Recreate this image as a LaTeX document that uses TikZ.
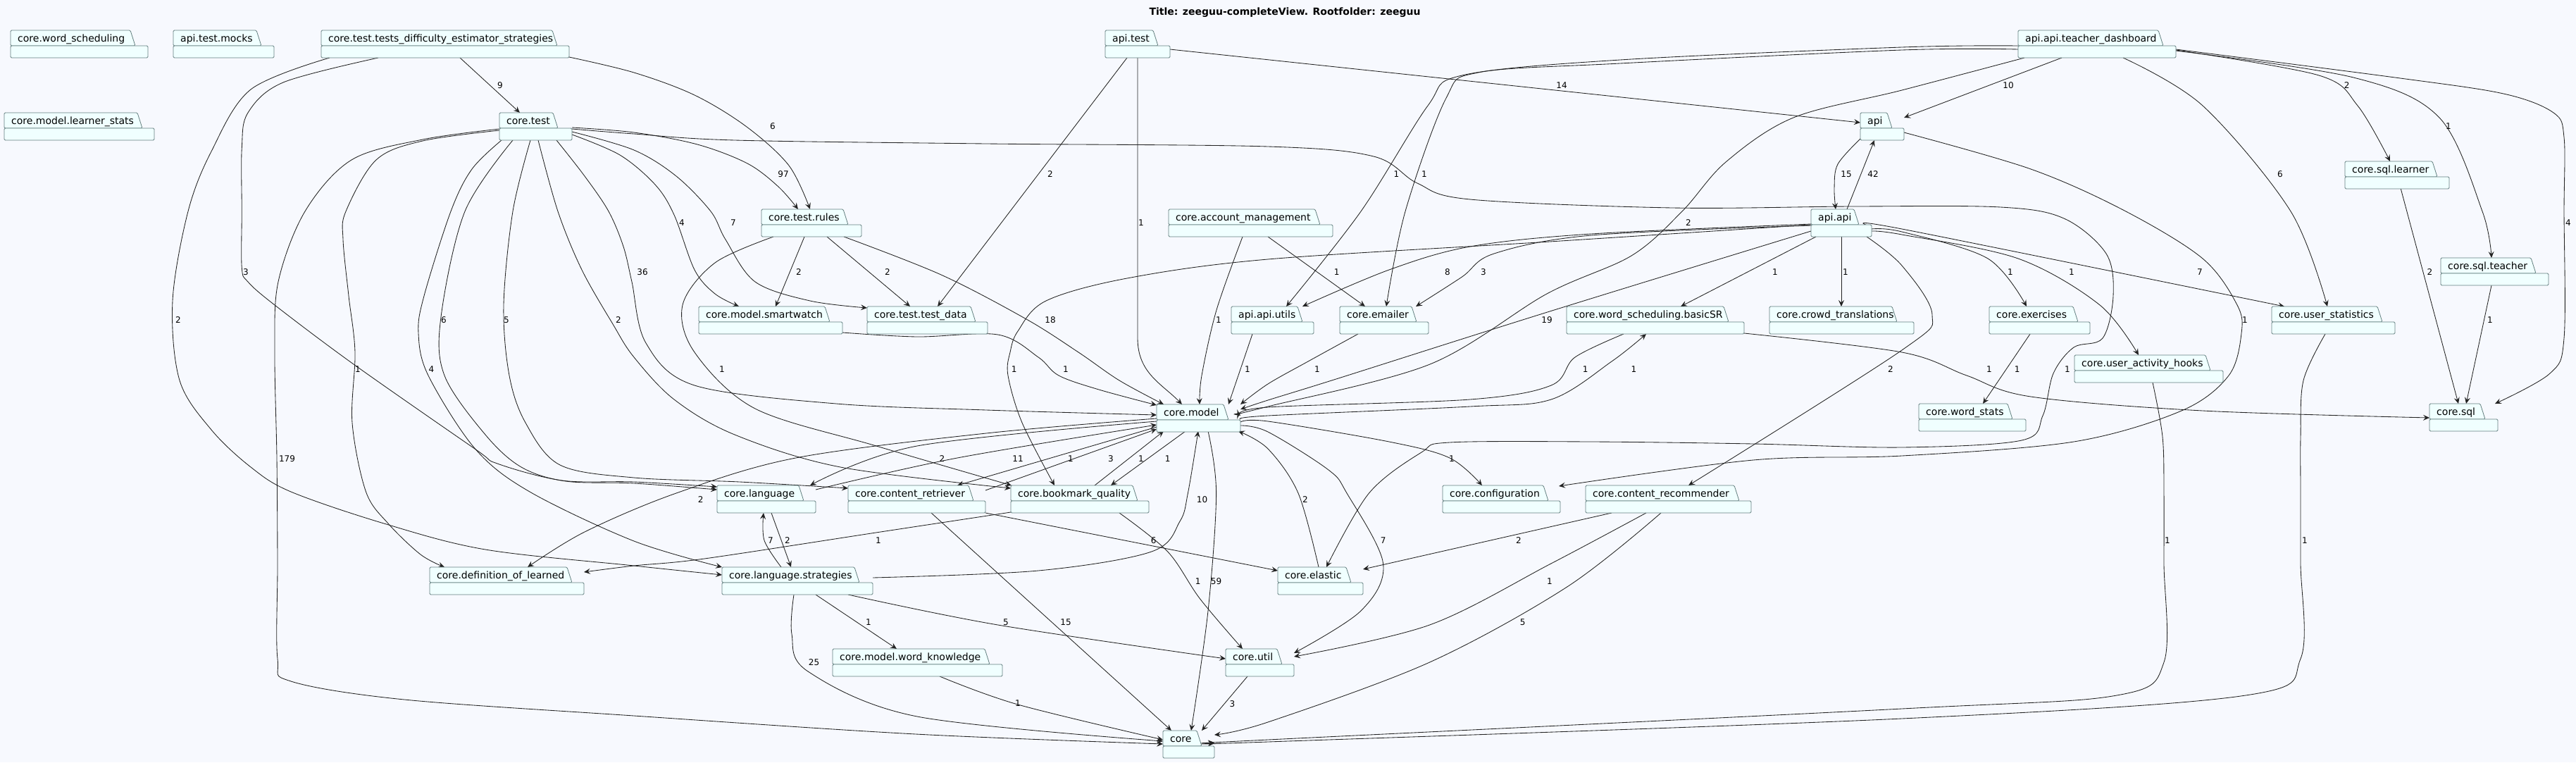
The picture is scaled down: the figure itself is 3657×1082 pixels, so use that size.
\documentclass[tikz,border=0pt]{standalone}
\usepackage{fontspec}
\setmainfont{DejaVu Sans}
\usetikzlibrary{arrows.meta}
\definecolor{bgcol}{HTML}{F7F9FE}
\definecolor{pkgfill}{HTML}{F0FFFF}
\definecolor{pkgline}{HTML}{637F7F}
\definecolor{edgecol}{HTML}{222222}
\pgfdeclarelayer{back}\pgfdeclarelayer{edges}\pgfsetlayers{back,edges,main}
\tikzset{
 pkgshape/.style={draw=pkgline, fill=pkgfill, line width=0.8pt, rounded corners=1.5pt},
 pkgbox/.style={inner sep=0pt, outer sep=0pt, minimum height=39pt},
 pkgtext/.style={inner sep=0pt, font=\fontsize{14}{17}\selectfont},
 dep/.style={draw=edgecol, line width=0.85pt, -{Stealth[length=9pt,width=8pt,inset=3.5pt]}},
 lbl/.style={inner sep=0pt, font=\fontsize{12}{14}\selectfont},
}
\newcommand{\pkg}[6]{%
 \path[pkgshape] (#2,#3+22) -- (#2,#3) -- (#4-7,#3) -- (#4,#3+22) -- cycle;
 \path[pkgshape] (#2,#3+22) rectangle (#5,#3+39);
 \node[pkgbox, minimum width={(#5-#2)*1pt}, anchor=north west] (#1) at (#2,#3) {};
 \node[pkgtext, anchor=base west] (#1-t) at (#2+10,#3+16) {#6};
}
\newcommand{\E}[1]{\draw[dep] plot[smooth,tension=0.55] coordinates {#1};}
\begin{document}
\begin{tikzpicture}[x=1pt,y=-1pt]
\useasboundingbox (0,0) rectangle (3657,1082);
\begin{pgfonlayer}{back}\fill[bgcol] (0,0) rectangle (3657,1082);\end{pgfonlayer}
\node[font=\bfseries\fontsize{14}{17}\selectfont, inner sep=0pt] (title) at (1824,18) {Title: zeeguu-completeView. Rootfolder: zeeguu};
\pkg{ws}{15}{43}{192}{210}{core.word\_scheduling}
\pkg{atm}{246}{43}{371}{389}{api.test.mocks}
\pkg{tde}{456}{43}{791}{808}{core.test.tests\_difficulty\_estimator\_strategies}
\pkg{mls}{6}{160}{202}{219}{core.model.learner\_stats}
\pkg{ct}{709}{160}{792}{812}{core.test}
\pkg{apit}{1569}{43}{1644}{1661}{api.test}
\pkg{api}{2641}{160}{2686}{2703}{api}
\pkg{td}{2865}{43}{3071}{3089}{api.api.teacher\_dashboard}
\pkg{ctr}{1081}{297}{1204}{1223}{core.test.rules}
\pkg{cam}{1659}{297}{1874}{1892}{core.account\_management}
\pkg{aa}{2571}{297}{2639}{2657}{api.api}
\pkg{sqll}{3329}{229}{3460}{3477}{core.sql.learner}
\pkg{sqlt}{3465}{366}{3600}{3618}{core.sql.teacher}
\pkg{sw}{992}{435}{1178}{1196}{core.model.smartwatch}
\pkg{tdd}{1231}{435}{1385}{1402}{core.test.test\_data}
\pkg{aau}{1748}{435}{1849}{1865}{api.api.utils}
\pkg{em}{1902}{435}{2011}{2028}{core.emailer}
\pkg{bsr}{2224}{435}{2454}{2476}{core.word\_scheduling.basicSR}
\pkg{crt}{2512}{435}{2693}{2717}{core.crowd\_translations}
\pkg{exer}{2824}{435}{2950}{2967}{core.exercises}
\pkg{us}{3225}{435}{3382}{3400}{core.user\_statistics}
\pkg{uah}{2945}{504}{3138}{3156}{core.user\_activity\_hooks}
\pkg{wst}{2724}{573}{2857}{2876}{core.word\_stats}
\pkg{sql}{3449}{573}{3528}{3546}{core.sql}
\pkg{cmod}{1642}{574}{1744}{1761}{core.model}
\pkg{cl}{1018}{689}{1141}{1158}{core.language}
\pkg{cr}{1204}{689}{1382}{1399}{core.content\_retriever}
\pkg{bq}{1435}{689}{1615}{1631}{core.bookmark\_quality}
\pkg{cfg}{2048}{689}{2198}{2215}{core.configuration}
\pkg{crec}{2251}{689}{2469}{2486}{core.content\_recommender}
\pkg{dol}{610}{805}{812}{829}{core.definition\_of\_learned}
\pkg{cls}{1025}{805}{1220}{1239}{core.language.strategies}
\pkg{ce}{1814}{805}{1918}{1935}{core.elastic}
\pkg{mwk}{1182}{921}{1405}{1423}{core.model.word\_knowledge}
\pkg{cu}{1740}{921}{1820}{1837}{core.util}
\pkg{core}{1651}{1037}{1706}{1724}{core}
\begin{pgfonlayer}{edges}
% tde
\draw[dep] ([shift={(197,39)}]tde.north west) -- ([shift={(29,0)}]ct.north west);
\E{([shift={(352,38)}]tde.north west) (900,103) (986,135) (1060,180) (1120,235) ([shift={(69,0)}]ctr.north west)}
\E{([shift={(12,39)}]tde.north west) (356,127) (300,215) (267,300) (245,427) (255,540) (300,610) (356,663) (413,698) (545,743) (689,780) (900,803) ([shift={(0,11)}]cls.north west)}
\E{([shift={(81,39)}]tde.north west) (402,117) (352,160) (343.3,210) (343.3,300) (343.3,380) (352,400) (390,433) (502,517) (674,637) (706,658) (798,682) (900,684) ([shift={(0,2)}]cl.north west)}
% core.test
\E{([shift={(103,21)}]ct.north west) (900,188) (990,205) (1061,232) (1105,265) ([shift={(52,0)}]ctr.north west)}
\E{([shift={(103,23)}]ct.north west) (900,190) (1043,199) (1400,204) (1800,208) (1950,222) (2012,260) (2087,283) (2374,295) (2632,293) (2840,294) (2930,310) (2990,360) (3000,420) (2985,480) (2944,493) (2915,530) (2900,590) (2870,625) (2700,635) (2489,630) (2259,627) (2058,628) (2018,642) (1943.5,700) ([shift={(69,0)}]ce.north west)}
\E{([shift={(103,27)}]ct.north west) (900,213) (960,250) (1009,300) (1030,340) (1072,400) (1150,427) ([shift={(0,2)}]tdd.north west)}
\E{([shift={(103,31)}]ct.north west) (880,220) (930,262) (957,305) (986,383) (1015,417) ([shift={(57,0)}]sw.north west)}
\E{([shift={(81,39)}]ct.north west) (830,250) (864,300) (885,350) (897,400) (917,487) (986,547) (1187,573) (1400,582) ([shift={(0,15)}]cmod.north west)}
\E{([shift={(55,39)}]ct.north west) (792,300) (826,383) (870,460) (900,507) (957,567) (1043,617) (1193,663) ([shift={(0,4)}]bq.north west)}
\E{([shift={(44,39)}]ct.north west) (728,300) (715,433) (723,533) (746,600) (795,660) (900,678) (1050,684) ([shift={(0,4)}]cr.north west)}
\E{([shift={(19,39)}]ct.north west) (660,300) (626,450) (631,533) (689,617) (740,663) (803,683) (900,686) ([shift={(0,6)}]cl.north west)}
\E{([shift={(3,39)}]ct.north west) (670,240) (640,300) (602,420) (594,473) (608,533) (674.5,637) (752,698) (900,768) ([shift={(0,0)}]cls.north west)}
\E{([shift={(0,23)}]ct.north west) (600,198) (499,227) (433,300) (395,400) (390,500) (393,650) (394,800) (394,935) (413,967) (574,993) (900,1016) (1300,1042) ([shift={(0,19)}]core.north west)}
\E{([shift={(0,25)}]ct.north west) (600,200) (534,227) (491,300) (487,340) (495,420) (504,500) (500,600) (519.5,698) (551,743) (597,787) ([shift={(21,0)}]dol.north west)}
% core.test.rules
\draw[dep] ([shift={(61,39)}]ctr.north west) -- ([shift={(109,0)}]sw.north west);
\draw[dep] ([shift={(93,39)}]ctr.north west) -- ([shift={(61,0)}]tdd.north west);
\E{([shift={(117,39)}]ctr.north west) (1336,390) (1457,453) (1531,500) (1589,540) ([shift={(10,0)}]cmod.north west)}
\E{([shift={(17,39)}]ctr.north west) (1015,373) (969,433) (986,500) (1072,580) (1244,633) ([shift={(1,0)}]bq.north west)}
% api.test
\draw[dep] ([shift={(92,27)}]apit.north west) -- ([shift={(0,14)}]api.north west);
\draw[dep] ([shift={(31,39)}]apit.north west) -- ([shift={(100,0)}]tdd.north west);
\draw[dep] ([shift={(46,39)}]apit.north west) -- (1615,480) .. controls (1615,530) and (1650,545) .. ([shift={(36,0)}]cmod.north west);
% account management, utils, emailer
\E{([shift={(105,39)}]cam.north west) (1727,440) (1706,533) ([shift={(61,0)}]cmod.north west)}
\draw[dep] ([shift={(141,39)}]cam.north west) -- ([shift={(36,0)}]em.north west);
\draw[dep] ([shift={(30,39)}]aau.north west) -- ([shift={(102,0)}]cmod.north west);
\E{([shift={(26,39)}]em.north west) (1857,513) (1800,545) ([shift={(119,0)}]cmod.north west)}
% api.api
\E{([shift={(0,31)}]aa.north west) (2200,442) (1900,537) (1800,568) ([shift={(119,7)}]cmod.north west)}
\E{([shift={(0,22)}]aa.north west) (2200,343) (1800,368) (1600,395) (1485,427) (1445,470) (1434,500) (1431,533) (1451,600) ([shift={(62,0)}]bq.north west)}
\draw[dep] ([shift={(51,0)}]aa.north west) -- ([shift={(20,39)}]api.north west);
\E{([shift={(0,37)}]api.north west) (2609,233) (2604,267) ([shift={(35,0)}]aa.north west)}
\E{([shift={(0,21)}]aa.north west) (2259,332) (2087,350) (1972,383) ([shift={(101,0)}]aau.north west)}
\E{([shift={(0,23)}]aa.north west) (2259,334) (2121,360) (2075.5,393) ([shift={(108,0)}]em.north west)}
\draw[dep] ([shift={(7,39)}]aa.north west) -- ([shift={(162,0)}]bsr.north west);
\draw[dep] ([shift={(43,39)}]aa.north west) -- ([shift={(102,0)}]crt.north west);
\E{([shift={(86,28)}]aa.north west) (2700,329) (2822,367) ([shift={(53,0)}]exer.north west)}
\E{([shift={(86,31)}]aa.north west) (2700,333) (2865,367) (2981,433) ([shift={(91,0)}]uah.north west)}
\E{([shift={(86,25)}]aa.north west) (2700,325) ([shift={(18,0)}]us.north west)}
\E{([shift={(79,39)}]aa.north west) (2700,377) (2743,447) (2700,497) ([shift={(146,0)}]crec.north west)}
% basicSR
\E{([shift={(81,39)}]bsr.north west) (2236,507) (2202,547) (2087,567) (1800,578) ([shift={(119,16)}]cmod.north west)}
\E{([shift={(119,21)}]cmod.north west) (1800,590) (2087,577) (2202,567) (2288,513) ([shift={(113,39)}]bsr.north west)}
\E{([shift={(252,38)}]bsr.north west) (2700,500) (2792,533) (2883,563) (3127,583) ([shift={(0,20)}]sql.north west)}
% teacher dashboard
\E{([shift={(9,39)}]td.north west) (2700,128) (2546,167) (2450,230) (2388,300) (2316,363) (2196,417) (2030,517) (1800,577) ([shift={(119,12)}]cmod.north west)}
\draw[dep] ([shift={(62,39)}]td.north west) -- ([shift={(62,7)}]api.north west);
\E{([shift={(0,22)}]td.north west) (2700,67) (2300,85) (2075.5,107) (2027,150) (1932,300) ([shift={(78,0)}]aau.north west)}
\E{([shift={(0,27)}]td.north west) (2700,71) (2300,90) (2098.5,103) (2052.6,140) (1995,300) ([shift={(66,0)}]em.north west)}
\E{([shift={(149,39)}]td.north west) (3127,150) (3252,300) ([shift={(79,0)}]us.north west)}
\E{([shift={(224,28)}]td.north west) (3292,107) (3347,150) ([shift={(64,0)}]sqll.north west)}
\E{([shift={(224,29)}]td.north west) (3341,110) (3463,167) (3524,300) ([shift={(72,0)}]sqlt.north west)}
\E{([shift={(224,27)}]td.north west) (3400,110) (3554,133) (3625,160) (3640,195) (3640,300) (3640,480) (3620,530) ([shift={(93,0)}]sql.north west)}
\draw[dep] ([shift={(79,38)}]sqll.north west) -- ([shift={(41,0)}]sql.north west);
\draw[dep] ([shift={(72,39)}]sqlt.north west) -- ([shift={(52,0)}]sql.north west);
\draw[dep] ([shift={(58,39)}]exer.north west) -- ([shift={(91,0)}]wst.north west);
% to core from right
\E{([shift={(76,39)}]us.north west) (3270,540) (3266,620) (3266,700) (3266,800) (3266,935) (3188,987) (2700,1020) (1800,1053) ([shift={(73,18)}]core.north west)}
\E{([shift={(111,39)}]uah.north west) (3070,620) (3072,700) (3072,800) (3072,940) (3005,987) (2700,1006) (1800,1050) ([shift={(73,17)}]core.north west)}
% content recommender
\draw[dep] ([shift={(37,39)}]crec.north west) -- ([shift={(121,3)}]ce.north west);
\E{([shift={(86,39)}]crec.north west) (2201.8,800) (2029.6,887) ([shift={(97,11)}]cu.north west)}
\E{([shift={(107,39)}]crec.north west) (2224.7,833) (2029.6,940) (1800,1025) ([shift={(73,6)}]core.north west)}
% core.model outgoing and related
\E{([shift={(119,30)}]cmod.north west) (1800,613) (1886,667) (1912,700) (1963.6,800) (1932,867) ([shift={(97,6)}]cu.north west)}
\E{([shift={(58,0)}]ce.north west) (1843,700) (1800,637) ([shift={(116,38)}]cmod.north west)}
\E{([shift={(119,25)}]cmod.north west) (1800,598) (1972,627) (2058,650) ([shift={(56,0)}]cfg.north west)}
\E{([shift={(62,28)}]api.north west) (2883,240) (3016,299) (3127,367) (3176,433) (3182,473) (3164,533) (3097,583) (2944,627) (2700,647) (2489,653) ([shift={(165,1)}]cfg.north west)}
\E{([shift={(73,38)}]cmod.north west) (1726.6,700) (1715,867) ([shift={(40,0)}]core.north west)}
\E{([shift={(214,15)}]cls.north west) (1474,810) (1634.7,783) (1675,740) (1686.4,700) ([shift={(59,38)}]cmod.north west)}
\E{([shift={(154,39)}]bq.north west) (1657.7,783) (1703.6,850) ([shift={(24,0)}]cu.north west)}
\draw[dep] ([shift={(195,39)}]cr.north west) -- ([shift={(0,5)}]ce.north west);
\draw[dep] ([shift={(118,39)}]cr.north west) -- ([shift={(12,0)}]core.north west);
\E{([shift={(179,39)}]cls.north west) (1416.6,887) ([shift={(0,14)}]cu.north west)}
\draw[dep] ([shift={(133,39)}]cls.north west) -- ([shift={(91,0)}]mwk.north west);
\E{([shift={(102,39)}]cls.north west) (1124,900) (1147,953) (1302,1017) ([shift={(0,15)}]core.north west)}
\E{([shift={(152,39)}]mwk.north west) (1445,1000) ([shift={(0,13)}]core.north west)}
\draw[dep] ([shift={(31,39)}]cu.north west) -- ([shift={(55,0)}]core.north west);
\draw[dep] ([shift={(77,39)}]cl.north west) -- ([shift={(98,0)}]cls.north west);
\E{([shift={(84,0)}]cls.north west) (1085,767) ([shift={(66,39)}]cl.north west)}
\E{([shift={(0,38)}]bq.north west) (1250,755) (1000,793) (900,803) ([shift={(219,7)}]dol.north west)}
\E{([shift={(0,20)}]cmod.north west) (1400,615) (1129.6,650) (960,700) (830,755) ([shift={(139,0)}]dol.north west)}
\E{([shift={(0,24)}]cmod.north west) (1302,633) ([shift={(132,0)}]cl.north west)}
\E{([shift={(140,6)}]cl.north west) (1359,650) ([shift={(0,29)}]cmod.north west)}
\draw[dep] ([shift={(0,32)}]cmod.north west) -- ([shift={(155,0)}]cr.north west);
\draw[dep] ([shift={(195,7)}]cr.north west) -- ([shift={(0,35)}]cmod.north west);
\draw[dep] ([shift={(119,0)}]bq.north west) -- ([shift={(10,38)}]cmod.north west);
\draw[dep] ([shift={(41,38)}]cmod.north west) -- ([shift={(142,0)}]bq.north west);
\E{([shift={(204,37)}]sw.north west) (1302,478) (1416.6,475) (1474,507) (1503,533) (1560,553) ([shift={(0,1)}]cmod.north west)}
\end{pgfonlayer}
% labels
\node[lbl] (l1) at (710,121) {9};
\node[lbl] (l2) at (1097,179) {6};
\node[lbl] (l3) at (253,454) {2};
\node[lbl] (l4) at (349,386) {3};
\node[lbl] (l5) at (1112,247) {97};
\node[lbl] (l6) at (2935,524) {1};
\node[lbl] (l7) at (1041,316) {7};
\node[lbl] (l8) at (968,316) {4};
\node[lbl] (l9) at (912,386) {36};
\node[lbl] (l10) at (878,454) {2};
\node[lbl] (l11) at (719,454) {5};
\node[lbl] (l12) at (630,454) {6};
\node[lbl] (l13) at (612.5,524) {4};
\node[lbl] (l14) at (407.5,651) {179};
\node[lbl] (l15) at (508,524) {1};
\node[lbl] (l16) at (1134,386) {2};
\node[lbl] (l17) at (1260,386) {2};
\node[lbl] (l18) at (1491,454) {18};
\node[lbl] (l19) at (1025,524) {1};
\node[lbl] (l20) at (2217,121) {14};
\node[lbl] (l21) at (1491,247) {2};
\node[lbl] (l22) at (1620,316) {1};
\node[lbl] (l23) at (1730,454) {1};
\node[lbl] (l24) at (1897.6,386) {1};
\node[lbl] (l25) at (1771,524) {1};
\node[lbl] (l26) at (1870,524) {1};
\node[lbl] (l27) at (2196,454) {19};
\node[lbl] (l28) at (2397,316) {2};
\node[lbl] (l29) at (2250.6,524) {1};
\node[lbl] (l30) at (2319.5,524) {1};
\node[lbl] (l31) at (1439.6,524) {1};
\node[lbl] (l32) at (2659,247) {42};
\node[lbl] (l33) at (2621,247) {15};
\node[lbl] (l34) at (2055,386) {8};
\node[lbl] (l35) at (2106,386) {3};
\node[lbl] (l36) at (2520,386) {1};
\node[lbl] (l37) at (2620,386) {1};
\node[lbl] (l38) at (2854,386) {1};
\node[lbl] (l39) at (2941,386) {1};
\node[lbl] (l40) at (3123,386) {7};
\node[lbl] (l41) at (2684,524) {2};
\node[lbl] (l42) at (2851,121) {10};
\node[lbl] (l43) at (1982.5,247) {1};
\node[lbl] (l44) at (2022,247) {1};
\node[lbl] (l45) at (3237,247) {6};
\node[lbl] (l46) at (3331.7,121) {2};
\node[lbl] (l47) at (3476,179) {1};
\node[lbl] (l48) at (3646,316) {4};
\node[lbl] (l49) at (3449.5,386) {2};
\node[lbl] (l50) at (3535,454) {1};
\node[lbl] (l51) at (2863.6,524) {1};
\node[lbl] (l52) at (2824,524) {1};
\node[lbl] (l53) at (3272,767) {1};
\node[lbl] (l54) at (3077,767) {1};
\node[lbl] (l55) at (2156,767) {2};
\node[lbl] (l56) at (2200,825) {1};
\node[lbl] (l57) at (2161.6,882.7) {5};
\node[lbl] (l58) at (1963.6,766.7) {7};
\node[lbl] (l59) at (1853,709) {2};
\node[lbl] (l60) at (2061,650.7) {1};
\node[lbl] (l61) at (3187,454) {1};
\node[lbl] (l62) at (1726.6,825) {59};
\node[lbl] (l63) at (1706.5,709) {10};
\node[lbl] (l64) at (1700.7,825) {1};
\node[lbl] (l65) at (1637.6,766.7) {6};
\node[lbl] (l66) at (1513,882.7) {15};
\node[lbl] (l67) at (1428,882.7) {5};
\node[lbl] (l68) at (1233,882.7) {1};
\node[lbl] (l69) at (1155.5,940) {25};
\node[lbl] (l70) at (1445,998) {1};
\node[lbl] (l71) at (1749.5,999) {3};
\node[lbl] (l72) at (1118,766.7) {2};
\node[lbl] (l73) at (1094,766.7) {7};
\node[lbl] (l74) at (1247,767) {1};
\node[lbl] (l75) at (994.7,709) {2};
\node[lbl] (l76) at (1337.4,650.7) {2};
\node[lbl] (l77) at (1445,650.7) {11};
\node[lbl] (l78) at (1520,650.7) {1};
\node[lbl] (l79) at (1577,650.7) {3};
\node[lbl] (l80) at (1620,650.7) {1};
\node[lbl] (l81) at (1657.7,650.7) {1};
\node[lbl] (l82) at (1513,524) {1};
\end{tikzpicture}
\end{document}
